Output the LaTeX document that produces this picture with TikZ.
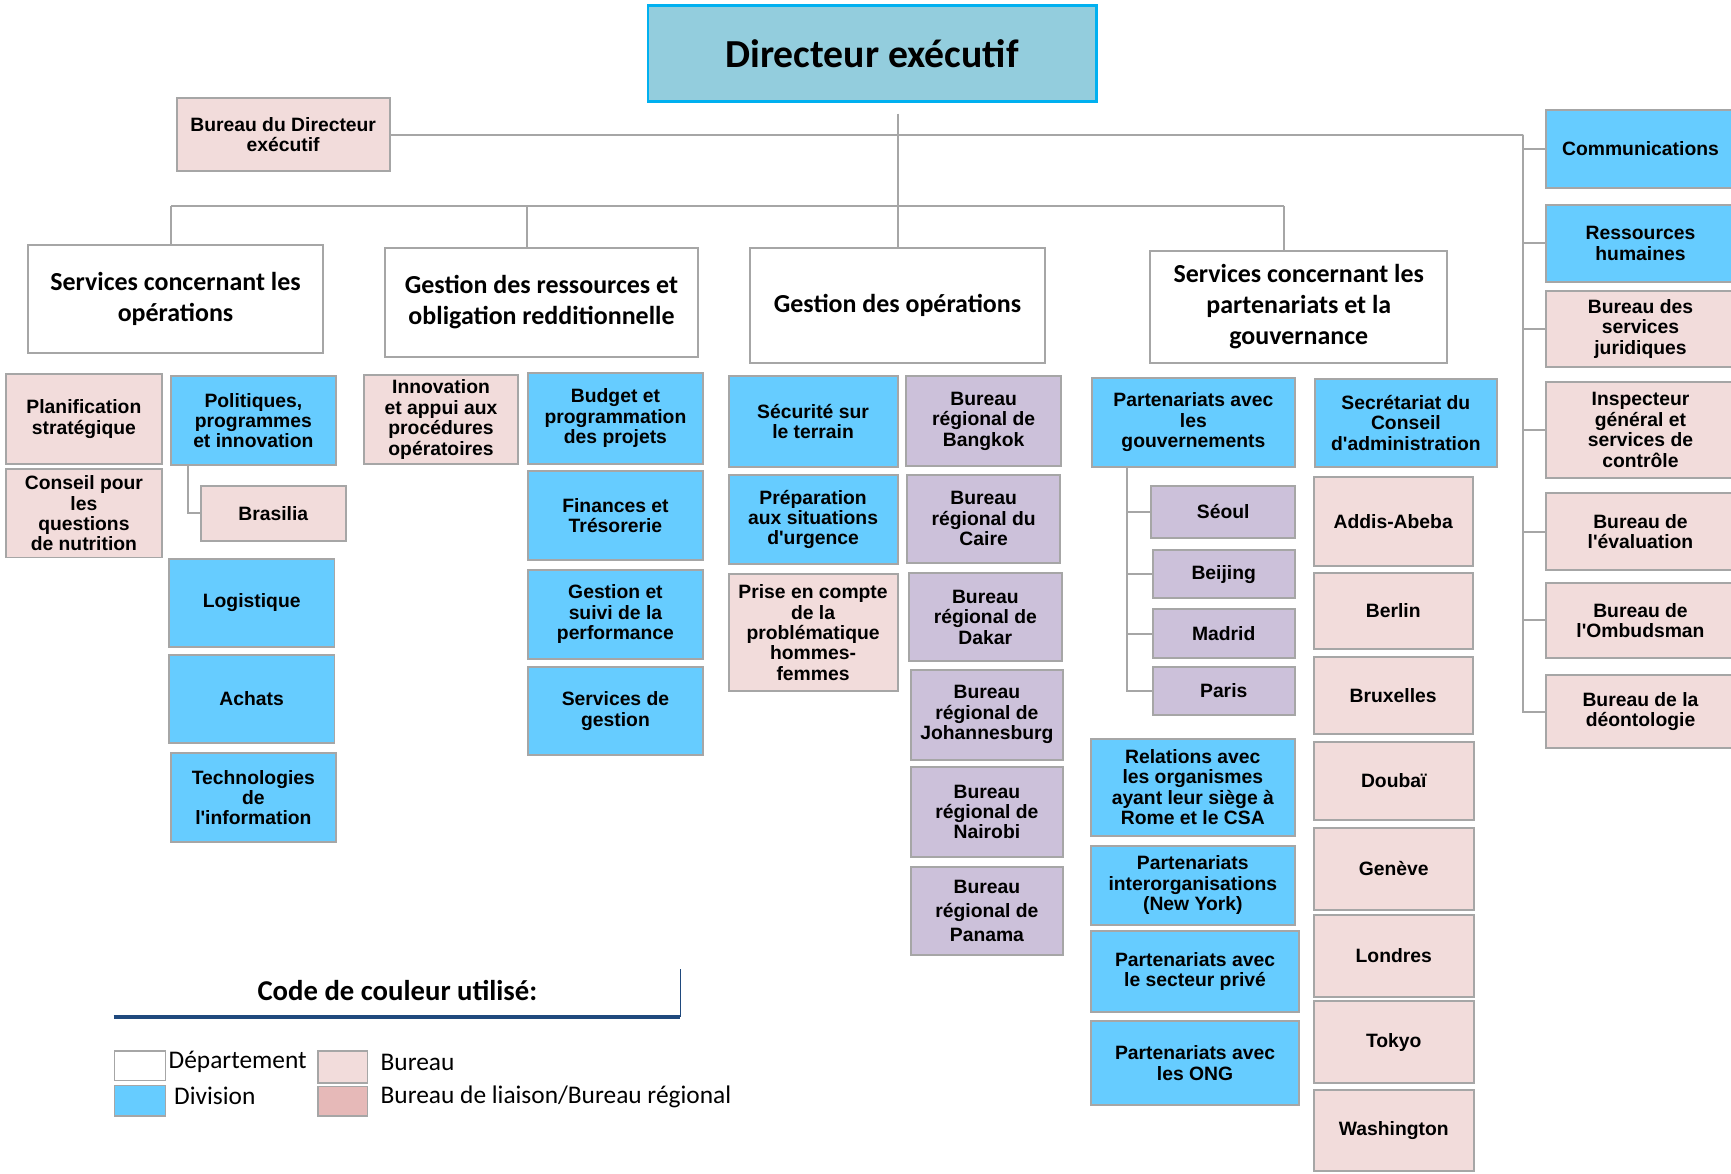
\documentclass[tikz,border=0pt]{standalone}
\usepackage{fontspec}
\setmainfont{Liberation Sans}
\newfontfamily\calib{Carlito}
\definecolor{divblue}{RGB}{102,204,255}
\definecolor{burpink}{RGB}{242,220,219}
\definecolor{liaipink}{RGB}{230,185,184}
\definecolor{reglav}{RGB}{204,193,218}
\definecolor{lgray}{RGB}{166,166,166}
\definecolor{titleblue}{RGB}{147,205,221}
\definecolor{titleline}{RGB}{0,176,240}
\definecolor{legblue}{RGB}{31,73,125}
\begin{document}
\begin{tikzpicture}[x=1pt,y=-1pt,
	sz/.style 2 args={minimum width=#1pt,minimum height=#2pt},
	box/.style={draw=lgray,line width=1.8pt,align=center,inner sep=1pt,font={\bfseries\fontsize{17.5}{18.5}\selectfont}},
	div/.style={box,fill=divblue},
	bur/.style={box,fill=burpink},
	reg/.style={box,fill=reglav},
	dep/.style={draw=lgray,line width=1.8pt,fill=white,align=center,font={\calib\bfseries\fontsize{23.5}{28}\selectfont}},
	conn/.style={lgray,line width=1.8pt},
	swatch/.style={draw=lgray,line width=1.2pt},
	legtext/.style={anchor=west,font={\calib\fontsize{23}{26}\selectfont}}]
	\useasboundingbox (0,0) rectangle (1568,1063);
	\node[draw=titleline,fill=titleblue,line width=2.5pt,sz={406}{87},font={\calib\bfseries\fontsize{36}{40}\selectfont}] (dir) at (790,48.5) {Directeur exécutif};
	\node[bur,sz={193}{66}] (bde) at (256.5,122) {Bureau du Directeur\\exécutif};
	\node[dep,sz={268}{98}] (dep1) at (159,271) {Services concernant les\\opérations};
	\node[dep,sz={283}{98}] (dep2) at (490.5,274) {Gestion des ressources et\\obligation redditionnelle};
	\node[dep,sz={268}{104}] (dep3) at (813,277) {Gestion des opérations};
	\node[dep,sz={269}{102}] (dep4) at (1176.5,278) {Services concernant les\\partenariats et la\\gouvernance};
	\node[div,sz={172}{70}] (comm) at (1486,135) {Communications};
	\node[div,sz={172}{69}] (rh) at (1486,220.5) {Ressources\\humaines};
	\node[bur,sz={172}{68}] (jur) at (1486,298) {Bureau des\\services\\juridiques};
	\node[bur,sz={172}{87}] (insp) at (1486,389.5) {Inspecteur\\général et\\services de\\contrôle};
	\node[bur,sz={172}{69}] (eval) at (1486,481.5) {Bureau de\\l\textquotesingle évaluation};
	\node[bur,sz={172}{68}] (omb) at (1486,562) {Bureau de\\l\textquotesingle Ombudsman};
	\node[bur,sz={172}{67}] (deon) at (1486,644.5) {Bureau de la\\déontologie};
	\node[bur,sz={142}{81}] (plan) at (76,379.5) {Planification\\stratégique};
	\node[bur,sz={142}{80}] (nutri) at (76,465) {Conseil pour\\les\\questions\\de nutrition};
	\node[div,sz={149}{80}] (polit) at (229.5,381) {Politiques,\\programmes\\et innovation};
	\node[bur,sz={131}{50}] (bras) at (247.5,465) {Brasilia};
	\node[div,sz={150}{80}] (logis) at (228,546) {Logistique};
	\node[div,sz={150}{80}] (achats) at (228,633) {Achats};
	\node[div,sz={149}{81}] (techno) at (229.5,722.5) {Technologies\\de\\l\textquotesingle information};
	\node[bur,sz={139}{80}] (innov) at (399.5,380) {Innovation\\et appui aux\\procédures\\opératoires};
	\node[div,sz={159}{82}] (budget) at (557.5,379) {Budget et\\programmation\\des projets};
	\node[div,sz={159}{80}] (fin) at (557.5,467) {Finances et\\Trésorerie};
	\node[div,sz={159}{81}] (perf) at (557.5,556.5) {Gestion et\\suivi de la\\performance};
	\node[div,sz={159}{80}] (sgest) at (557.5,644) {Services de\\gestion};
	\node[div,sz={153}{82}] (secu) at (736.5,382) {Sécurité sur\\le terrain};
	\node[div,sz={153}{81}] (prep) at (736.5,470.5) {Préparation\\aux situations\\d\textquotesingle urgence};
	\node[bur,sz={153}{106}] (genre) at (736.5,573) {Prise en compte\\de la\\problématique\\hommes-\\femmes};
	\node[reg,sz={140}{81}] (bangkok) at (891,381.5) {Bureau\\régional de\\Bangkok};
	\node[reg,sz={138}{80}] (caire) at (891,470) {Bureau\\régional du\\Caire};
	\node[reg,sz={139}{80}] (dakar) at (892.5,559) {Bureau\\régional de\\Dakar};
	\node[reg,sz={138}{81}] (joburg) at (894,647.5) {Bureau\\régional de\\Johannesburg};
	\node[reg,sz={138}{81}] (nairobi) at (894,735.5) {Bureau\\régional de\\Nairobi};
	\node[reg,sz={138}{80}] (panama) at (894,825) {Bureau\\[3pt]régional de\\[3pt]Panama};
	\node[div,sz={184}{81}] (gouv) at (1081,382.5) {Partenariats avec\\les\\gouvernements};
	\node[reg,sz={130}{47}] (seoul) at (1108,463.5) {Séoul};
	\node[reg,sz={129}{44}] (beijing) at (1108.5,520) {Beijing};
	\node[reg,sz={129}{44}] (madrid) at (1108.5,574) {Madrid};
	\node[reg,sz={129}{44}] (paris) at (1108.5,626) {Paris};
	\node[div,sz={185}{88}] (rome) at (1080.5,713) {Relations avec\\les organismes\\ayant leur siège à\\Rome et le CSA};
	\node[div,sz={185}{72}] (ny) at (1080.5,802) {Partenariats\\interorganisations\\(New York)};
	\node[div,sz={189}{74}] (prive) at (1082.5,880) {Partenariats avec\\le secteur privé};
	\node[div,sz={189}{76}] (ong) at (1082.5,963) {Partenariats avec\\les ONG};
	\node[div,sz={165}{80}] (secr) at (1273.5,383) {Secrétariat du\\Conseil\\d\textquotesingle administration};
	\node[bur,sz={144}{81}] (addis) at (1262,472.5) {Addis-Abeba};
	\node[bur,sz={144}{69}] (berlin) at (1262,553.5) {Berlin};
	\node[bur,sz={144}{70}] (brux) at (1262,630) {Bruxelles};
	\node[bur,sz={145}{71}] (doubai) at (1262.5,707.5) {Doubaï};
	\node[bur,sz={145}{74}] (geneve) at (1262.5,787) {Genève};
	\node[bur,sz={145}{74}] (londres) at (1262.5,866) {Londres};
	\node[bur,sz={145}{74}] (tokyo) at (1262.5,944) {Tokyo};
	\node[bur,sz={145}{74}] (wash) at (1262.5,1024) {Washington};
	\coordinate (dtop) at (813,103);
	\coordinate (rspine) at (1380,122);
	\coordinate (barL) at (155,187);
	\coordinate (barM) at (477,187);
	\coordinate (barR) at (1163,187);
	\draw[conn] (dtop) -- (dep3.north);
	\draw[conn] (bde.east) -- (rspine);
	\foreach \n in {comm,rh,jur,insp,eval,omb,deon}
		\draw[conn] (rspine) |- (\n.west);
	\draw[conn] (barL) -- (barR);
	\draw[conn] (barL) -- (barL |- dep1.north);
	\draw[conn] (barM) -- (barM |- dep2.north);
	\draw[conn] (barR) -- (barR |- dep4.north);
	\draw[conn] ([xshift=-59.5pt]polit.south) |- (bras.west);
	\foreach \n in {seoul,beijing,madrid,paris}
		\draw[conn] ([xshift=-60pt]gouv.south) |- (\n.west);
	\node[font={\calib\bfseries\fontsize{26}{30}\selectfont}] (legt) at (360,897) {Code de couleur utilisé:};
	\coordinate (legL) at (103,921);
	\coordinate (legR) at (616,921);
	\draw[legblue,line width=3.5pt] (legL) -- (legR);
	\draw[legblue,line width=0.8pt] (legR) -- ++(0,-43);
	\node[swatch,fill=white,sz={46}{27}] (swdep) at (127,965.5) {};
	\node[swatch,fill=divblue,sz={46}{28}] (swdiv) at (127,997) {};
	\node[swatch,fill=burpink,sz={45}{29}] (swbur) at (310.5,966.5) {};
	\node[swatch,fill=liaipink,sz={45}{27}] (swlia) at (310.5,997.5) {};
	\node[legtext,inner sep=2pt] (ldep) at ([yshift=4pt]swdep.east) {Département};
	\node[legtext,inner sep=7pt] (ldiv) at ([yshift=4pt]swdiv.east) {Division};
	\node[legtext,inner sep=11pt] (lbur) at ([yshift=4pt]swbur.east) {Bureau};
	\node[legtext,inner sep=11pt] (llia) at ([yshift=4pt]swlia.east) {Bureau de liaison/Bureau régional};
\end{tikzpicture}
\end{document}
